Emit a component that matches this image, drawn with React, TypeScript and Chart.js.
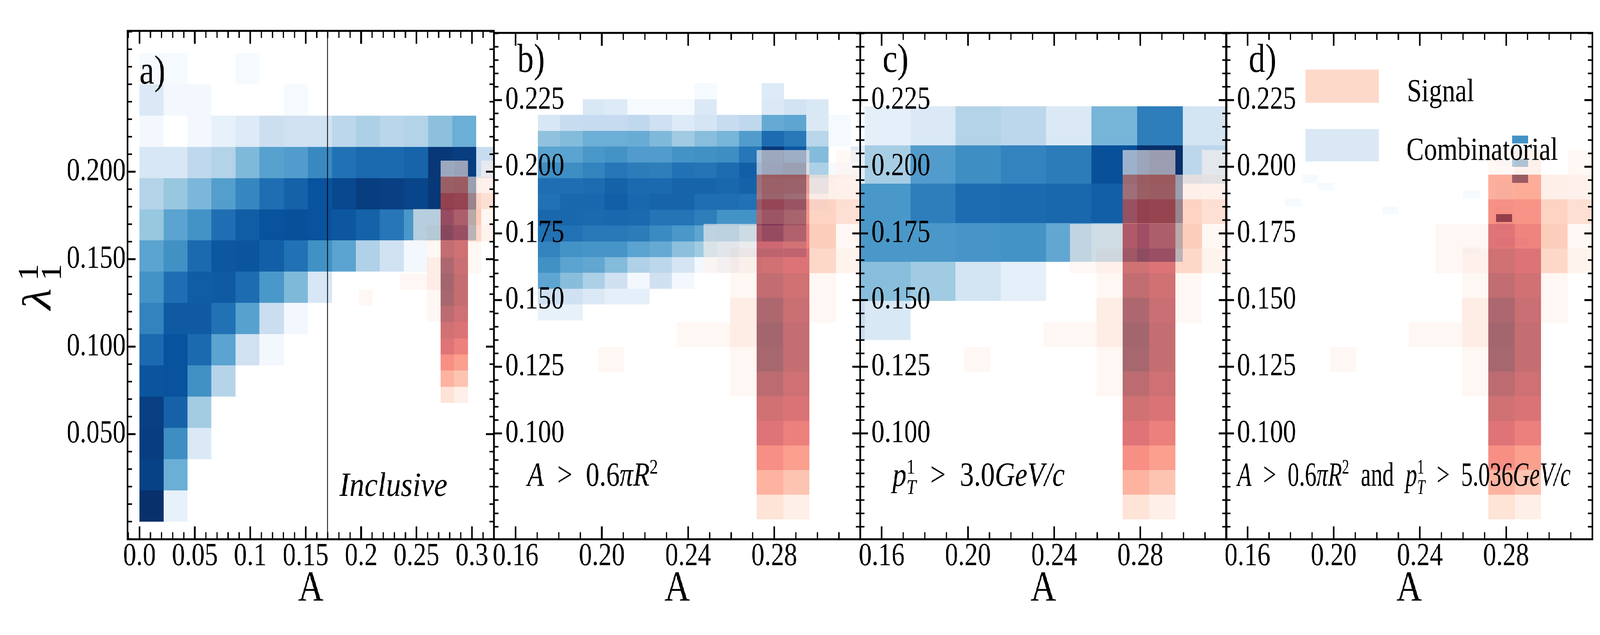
import React, { useEffect, useRef } from "react";
import { Chart, registerables } from "chart.js";

Chart.register(...registerables);

// bin edges and cell intensities (0..1 of the colormap), rows listed top row first
const signalX = [0.1982, 0.2105, 0.2227, 0.235, 0.2472, 0.2595, 0.2717, 0.284, 0.2962, 0.3085, 0.3207];
const signalY = [0.0678, 0.077, 0.0863, 0.0955, 0.1047, 0.114, 0.1232, 0.1324, 0.1417, 0.1509, 0.1601, 0.1694, 0.1786, 0.1878, 0.1971, 0.2063];
const signalRows = [
  [0, 0, 0, 0, 0, 0, 0.01, 0.08, 0, 0.01],
  [0, 0, 0, 0, 0, 0, 0.45, 0.47, 0.1, 0.08],
  [0, 0, 0, 0, 0, 0, 0.59, 0.58, 0.26, 0.2],
  [0, 0, 0, 0, 0.02, 0.02, 0.75, 0.66, 0.3, 0.02],
  [0, 0, 0, 0, 0.02, 0.08, 0.84, 0.77, 0.24, 0.06],
  [0, 0, 0, 0, 0, 0.02, 0.9, 0.84, 0.02, 0],
  [0, 0, 0, 0, 0, 0.12, 0.97, 0.87, 0.02, 0],
  [0, 0, 0, 0.02, 0.02, 0.12, 1, 0.89, 0, 0],
  [0.02, 0, 0, 0, 0, 0.02, 0.99, 0.89, 0, 0],
  [0, 0, 0, 0, 0, 0.02, 0.92, 0.85, 0, 0],
  [0, 0, 0, 0, 0, 0, 0.84, 0.78, 0, 0],
  [0, 0, 0, 0, 0, 0, 0.76, 0.68, 0, 0],
  [0, 0, 0, 0, 0, 0, 0.6, 0.53, 0, 0],
  [0, 0, 0, 0, 0, 0, 0.43, 0.34, 0, 0],
  [0, 0, 0, 0, 0, 0, 0.18, 0.1, 0, 0],
];

const inclusiveX = [0, 0.0217, 0.0434, 0.0651, 0.0868, 0.1085, 0.1302, 0.1519, 0.1736, 0.1953, 0.217, 0.2387, 0.2604, 0.2821, 0.3038, 0.3255];
const inclusiveY = [0, 0.0179, 0.0357, 0.0536, 0.0714, 0.0893, 0.1071, 0.125, 0.1428, 0.1607, 0.1785, 0.1964, 0.2142, 0.2321, 0.25, 0.2678];
const inclusiveRows = [
  [0.01, 0.01, 0, 0, 0.01, 0, 0, 0, 0, 0, 0, 0, 0, 0, 0],
  [0.14, 0.02, 0.02, 0, 0, 0, 0.01, 0, 0, 0, 0, 0, 0, 0, 0],
  [0.02, 0, 0.02, 0.08, 0.13, 0.22, 0.2, 0.2, 0.28, 0.33, 0.29, 0.31, 0.42, 0.5, 0],
  [0.16, 0.16, 0.27, 0.31, 0.45, 0.56, 0.58, 0.66, 0.75, 0.78, 0.78, 0.8, 0.97, 0.95, 0.24],
  [0.31, 0.39, 0.46, 0.57, 0.67, 0.76, 0.81, 0.87, 0.91, 0.95, 0.94, 0.92, 0.97, 0.97, 0],
  [0.39, 0.55, 0.62, 0.76, 0.83, 0.87, 0.88, 0.87, 0.85, 0.81, 0.73, 0.6, 0.6, 0.55, 0],
  [0.55, 0.63, 0.78, 0.85, 0.86, 0.82, 0.75, 0.63, 0.55, 0.32, 0.2, 0.02, 0, 0, 0],
  [0.62, 0.76, 0.83, 0.84, 0.77, 0.6, 0.45, 0.16, 0, 0, 0, 0, 0, 0, 0],
  [0.68, 0.84, 0.84, 0.75, 0.56, 0.23, 0.02, 0, 0, 0, 0, 0, 0, 0, 0],
  [0.78, 0.87, 0.78, 0.55, 0.2, 0.02, 0, 0, 0, 0, 0, 0, 0, 0, 0],
  [0.86, 0.87, 0.63, 0.3, 0, 0, 0, 0, 0, 0, 0, 0, 0, 0, 0],
  [0.94, 0.81, 0.36, 0, 0, 0, 0, 0, 0, 0, 0, 0, 0, 0, 0],
  [0.95, 0.64, 0.14, 0, 0, 0, 0, 0, 0, 0, 0, 0, 0, 0, 0],
  [0.93, 0.5, 0, 0, 0, 0, 0, 0, 0, 0, 0, 0, 0, 0, 0],
  [1, 0.08, 0, 0, 0, 0, 0, 0, 0, 0, 0, 0, 0, 0, 0],
];

const areaX = [0.1703, 0.1807, 0.1911, 0.2014, 0.2118, 0.2222, 0.2326, 0.243, 0.2533, 0.2637, 0.2741, 0.2845, 0.2949, 0.3052, 0.3156, 0.326];
const areaY = [0.1424, 0.1484, 0.1543, 0.1602, 0.1661, 0.172, 0.178, 0.1839, 0.1898, 0.1957, 0.2016, 0.2076, 0.2135, 0.2194, 0.2253, 0.2313];
const areaRows = [
  [0, 0, 0, 0, 0, 0, 0, 0.01, 0, 0, 0.13, 0, 0, 0, 0],
  [0, 0, 0.15, 0.13, 0.01, 0.01, 0.01, 0.14, 0, 0, 0.14, 0.19, 0.15, 0, 0],
  [0.16, 0.24, 0.25, 0.25, 0.27, 0.21, 0.13, 0.17, 0.24, 0.27, 0.52, 0.54, 0.14, 0.01, 0],
  [0.41, 0.44, 0.5, 0.5, 0.51, 0.45, 0.37, 0.43, 0.47, 0.58, 0.77, 0.72, 0.29, 0.01, 0],
  [0.55, 0.55, 0.6, 0.62, 0.58, 0.58, 0.62, 0.63, 0.64, 0.73, 0.97, 0.85, 0.44, 0, 0.13],
  [0.64, 0.64, 0.68, 0.73, 0.71, 0.7, 0.75, 0.74, 0.77, 0.82, 1, 0.98, 0.33, 0.01, 0.01],
  [0.76, 0.76, 0.77, 0.81, 0.78, 0.78, 0.8, 0.8, 0.79, 0.81, 0.95, 0.9, 0.22, 0, 0],
  [0.75, 0.79, 0.79, 0.82, 0.79, 0.8, 0.8, 0.76, 0.76, 0.75, 0.92, 0.82, 0.02, 0, 0],
  [0.79, 0.79, 0.78, 0.79, 0.78, 0.74, 0.74, 0.7, 0.62, 0.62, 0.78, 0.66, 0, 0, 0],
  [0.75, 0.75, 0.72, 0.72, 0.71, 0.65, 0.6, 0.54, 0.56, 0.45, 0.6, 0.52, 0, 0, 0],
  [0.68, 0.62, 0.61, 0.61, 0.55, 0.52, 0.42, 0.37, 0.3, 0.2, 0.2, 0.3, 0, 0, 0],
  [0.63, 0.55, 0.53, 0.44, 0.32, 0.28, 0.17, 0.02, 0.1, 0.01, 0, 0, 0, 0, 0],
  [0.54, 0.43, 0.33, 0.2, 0.02, 0.2, 0.02, 0, 0, 0, 0, 0, 0, 0, 0],
  [0.2, 0.2, 0.14, 0.09, 0.09, 0, 0, 0, 0, 0, 0, 0, 0, 0, 0],
  [0.08, 0.08, 0, 0, 0, 0, 0, 0, 0, 0, 0, 0, 0, 0, 0],
];

const ptX = [0.1312, 0.1522, 0.1733, 0.1943, 0.2153, 0.2363, 0.2574, 0.2784, 0.2997, 0.3205];
const ptY = [0.1204, 0.135, 0.1497, 0.1643, 0.1789, 0.1936, 0.208, 0.2227];
const ptRows = [
  [0.01, 0.09, 0.14, 0.31, 0.28, 0.14, 0.47, 0.7, 0.18],
  [0.12, 0.35, 0.58, 0.64, 0.68, 0.71, 0.88, 1, 0.28],
  [0.6, 0.6, 0.7, 0.77, 0.78, 0.79, 0.82, 0.97, 0],
  [0.6, 0.6, 0.6, 0.61, 0.62, 0.53, 0.43, 0.55, 0],
  [0.43, 0.43, 0.37, 0.18, 0.09, 0, 0, 0, 0],
  [0.24, 0.15, 0, 0, 0, 0, 0, 0, 0],
  [0.01, 0, 0, 0, 0, 0, 0, 0, 0],
];

const bothX = [0.1775, 0.185, 0.1925, 0.2001, 0.2076, 0.2151, 0.2226, 0.2301, 0.2377, 0.2452, 0.2527, 0.2602, 0.2677, 0.2753, 0.2828, 0.2903];
const bothY = [0.1675, 0.1704, 0.1734, 0.1763, 0.1793, 0.1822, 0.1852, 0.1881, 0.1911, 0.194, 0.197, 0.1999, 0.2029, 0.2058, 0.2088, 0.2117];
const bothRows = [
  [0, 0, 0, 0, 0, 0, 0, 0, 0, 0, 0, 0, 0, 0, 0.62],
  [0, 0, 0, 0, 0, 0, 0, 0, 0, 0, 0, 0, 0, 0, 0.01],
  [0, 0, 0, 0, 0, 0, 0, 0, 0, 0, 0, 0, 0, 0, 0],
  [0, 0, 0, 0, 0, 0, 0, 0, 0, 0, 0, 0, 0, 0.01, 0.65],
  [0, 0, 0, 0, 0, 0, 0, 0, 0, 0, 0, 0, 0, 0, 0],
  [0, 0.01, 0, 0, 0, 0, 0, 0, 0, 0, 0, 0, 0, 0, 0.97],
  [0, 0, 0.01, 0, 0, 0, 0, 0, 0, 0, 0, 0, 0, 0.01, 0],
  [0, 0, 0, 0, 0, 0, 0, 0, 0, 0, 0, 0.01, 0, 0.01, 0],
  [0.01, 0, 0, 0, 0, 0, 0, 0, 0, 0, 0, 0, 0, 0, 0],
  [0, 0, 0, 0, 0, 0, 0.01, 0, 0, 0, 0, 0, 0, 0.01, 0],
  [0, 0, 0, 0, 0, 0, 0, 0, 0, 0, 0, 0, 0, 1, 0],
  [0, 0, 0, 0, 0, 0, 0, 0, 0, 0, 0, 0, 0, 0.01, 0],
  [0, 0, 0, 0, 0, 0, 0, 0, 0, 0, 0, 0, 0, 0, 0],
  [0, 0, 0, 0, 0, 0, 0, 0, 0, 0, 0, 0, 0, 0.01, 0.01],
  [0, 0, 0, 0, 0, 0, 0, 0, 0, 0, 0, 0.02, 0, 0, 0],
];

const inclusiveXTicks = [0, 0.05, 0.1, 0.15, 0.2, 0.25, 0.3];
const inclusiveXLabels = ["0.0", "0.05", "0.1", "0.15", "0.2", "0.25", "0.3"];
const inclusiveYTicks = [0.05, 0.1, 0.15, 0.2];
const cutXTicks = [0.16, 0.2, 0.24, 0.28];
const cutYTicks = [0.1, 0.125, 0.15, 0.175, 0.2, 0.225];

const cutLine = 0.1697;

const blues = ["#f7fbff", "#deebf7", "#c6dbef", "#9ecae1", "#6baed6", "#4292c6", "#2171b5", "#08519c", "#08306b"];
const reds = ["#fff5f0", "#fee0d2", "#fcbba1", "#fc9272", "#fb6a4a", "#ef3b2c", "#cb181d", "#a50f15", "#67000d"];

const SERIF = "Liberation Serif";
const PAGE_W = 5000;
const PAGE_H = 1625;

const hex = (s: string) => [1, 3, 5].map((i) => parseInt(s.slice(i, i + 2), 16));

const cmap = (stops: string[], t: number, alpha: number) => {
  const p = Math.min(t, 1) * (stops.length - 1);
  const i = Math.min(Math.floor(p), stops.length - 2);
  const a = hex(stops[i]);
  const b = hex(stops[i + 1]);
  const c = a.map((v, k) => Math.round(v + (b[k] - v) * (p - i)));
  return `rgba(${c[0]},${c[1]},${c[2]},${alpha})`;
};

type Run = { t?: string; it?: boolean; sup?: string; sub?: string };
type Note = { runs: Run[]; x: number; y: number; w: number; size: number };

// text with optional stacked super/subscripts, squeezed to a target width
const drawRuns = (ctx: CanvasRenderingContext2D, n: Note) => {
  const small = n.size * 0.62;
  const runWidth = (r: Run) => {
    if (r.t) {
      ctx.font = `${r.it ? "italic " : ""}${n.size}px "${SERIF}"`;
      return ctx.measureText(r.t).width;
    }
    ctx.font = `${small}px "${SERIF}"`;
    const a = ctx.measureText(r.sup || "").width;
    ctx.font = `italic ${small}px "${SERIF}"`;
    return Math.max(a, ctx.measureText(r.sub || "").width);
  };
  const total = n.runs.reduce((s, r) => s + runWidth(r), 0);
  ctx.save();
  ctx.translate(n.x, n.y);
  ctx.scale(n.w / total, 1);
  ctx.fillStyle = "#000";
  ctx.textAlign = "left";
  ctx.textBaseline = "alphabetic";
  let x = 0;
  n.runs.forEach((r) => {
    const w = runWidth(r);
    if (r.t) {
      ctx.font = `${r.it ? "italic " : ""}${n.size}px "${SERIF}"`;
      ctx.fillText(r.t, x, 0);
    } else {
      if (r.sup) {
        ctx.font = `${small}px "${SERIF}"`;
        ctx.fillText(r.sup, x, -n.size * 0.36);
      }
      if (r.sub) {
        ctx.font = `italic ${small}px "${SERIF}"`;
        ctx.fillText(r.sub, x, n.size * 0.24);
      }
    }
    x += w;
  });
  ctx.restore();
};

const frac = (step: number, min: number, max: number) => {
  const out: number[] = [];
  for (let i = Math.ceil(min / step - 1e-6); i * step <= max + 1e-9; i++) out.push(i * step);
  return out;
};

type Layer = { xs: number[]; ys: number[]; rows: number[][]; stops: string[]; alpha: number };

type Panel = {
  left: number;
  width: number;
  pad: number;
  xMin: number;
  xMax: number;
  yMin: number;
  yMax: number;
  xTicks: number[];
  xLabels: string[];
  yTicks: number[];
  yMinor: number;
  mirror: boolean;
  layer: Layer;
  tag: string;
  tagX: number;
  tagY: number;
  note: Note;
  legend?: boolean;
  yTitle?: boolean;
  line?: number;
};

const signalLayer: Layer = { xs: signalX, ys: signalY, rows: signalRows, stops: reds, alpha: 0.6 };

const mathSize = 86;
const ptRuns: Run[] = [{ t: "p", it: true }, { sup: "1", sub: "T" }];
const areaRuns: Run[] = [
  { t: "A", it: true },
  { t: "  >  0.6" },
  { t: "\u03c0R", it: true },
  { sup: "2" },
];

const cutXLabels = cutXTicks.map((v) => v.toFixed(2));

const panels: Panel[] = [
  {
    left: 0, width: 1600, pad: 399, xMin: -0.0106, xMax: 0.32, yMin: -0.0101, yMax: 0.2805,
    xTicks: inclusiveXTicks, xLabels: inclusiveXLabels, yTicks: inclusiveYTicks, yMinor: 0.01, mirror: false,
    layer: { xs: inclusiveX, ys: inclusiveY, rows: inclusiveRows, stops: blues, alpha: 1 },
    tag: "a)", tagX: 436, tagY: 214,
    note: { runs: [{ t: "Inclusive", it: true }], x: 1061, y: 1269, w: 337, size: mathSize },
    yTitle: true, line: cutLine,
  },
  {
    left: 1460, width: 1300, pad: 84, xMin: 0.15, xMax: 0.32, yMin: 0.0603, yMax: 0.2502,
    xTicks: cutXTicks, xLabels: cutXLabels, yTicks: cutYTicks, yMinor: 0.005, mirror: true,
    layer: { xs: areaX, ys: areaY, rows: areaRows, stops: blues, alpha: 1 },
    tag: "b)", tagX: 1616, tagY: 184,
    note: { runs: areaRuns, x: 1648, y: 1243, w: 408, size: mathSize },
  },
  {
    left: 2604, width: 1300, pad: 84, xMin: 0.15, xMax: 0.32, yMin: 0.0603, yMax: 0.2502,
    xTicks: cutXTicks, xLabels: cutXLabels, yTicks: cutYTicks, yMinor: 0.005, mirror: true,
    layer: { xs: ptX, ys: ptY, rows: ptRows, stops: blues, alpha: 1 },
    tag: "c)", tagX: 2758, tagY: 184,
    note: { runs: [...ptRuns, { t: "  >  3.0" }, { t: "GeV/c", it: true }], x: 2789, y: 1243, w: 538, size: mathSize },
  },
  {
    left: 3747, width: 1253, pad: 84, xMin: 0.15, xMax: 0.32, yMin: 0.0603, yMax: 0.2502,
    xTicks: cutXTicks, xLabels: cutXLabels, yTicks: cutYTicks, yMinor: 0.005, mirror: true,
    layer: { xs: bothX, ys: bothY, rows: bothRows, stops: blues, alpha: 1 },
    tag: "d)", tagX: 3902, tagY: 184,
    note: {
      runs: [...areaRuns, { t: "  and  " }, ...ptRuns, { t: "  >  5.036" }, { t: "GeV/c", it: true }],
      x: 3867, y: 1243, w: 1041, size: mathSize,
    },
    legend: true,
  },
];

const drawLayer = (chart: any, layer: Layer) => {
  const { ctx, scales } = chart;
  const nRows = layer.rows.length;
  layer.rows.forEach((row, r) => {
    const yTop = Math.round(scales.y.getPixelForValue(layer.ys[nRows - r]));
    const yBot = Math.round(scales.y.getPixelForValue(layer.ys[nRows - r - 1]));
    row.forEach((v, c) => {
      if (!v) return;
      const x0 = Math.round(scales.x.getPixelForValue(layer.xs[c]));
      const x1 = Math.round(scales.x.getPixelForValue(layer.xs[c + 1]));
      ctx.fillStyle = cmap(layer.stops, v, layer.alpha);
      ctx.fillRect(x0, yTop, x1 - x0, yBot - yTop);
    });
  });
};

const makePlugin = (p: Panel) => ({
  id: "histPanel",
  beforeDatasetsDraw(chart: any) {
    const { ctx, chartArea: a } = chart;
    ctx.save();
    ctx.beginPath();
    ctx.rect(a.left, a.top, a.right - a.left, a.bottom - a.top);
    ctx.clip();
    drawLayer(chart, p.layer);
    drawLayer(chart, signalLayer);
    ctx.restore();
  },
  afterDraw(chart: any) {
    const { ctx, chartArea: a, scales } = chart;
    ctx.save();
    ctx.strokeStyle = "#000";
    const seg = (x0: number, y0: number, x1: number, y1: number, w: number) => {
      ctx.lineWidth = w;
      ctx.beginPath();
      ctx.moveTo(x0, y0);
      ctx.lineTo(x1, y1);
      ctx.stroke();
    };
    // inward ticks on all four sides
    frac(0.01, p.xMin, p.xMax).forEach((v) => {
      const x = scales.x.getPixelForValue(v);
      const major = p.xTicks.some((m) => Math.abs(m - v) < 1e-6);
      const len = major ? 33 : 18;
      seg(x, a.bottom, x, a.bottom - len, major ? 5 : 4);
      seg(x, a.top, x, a.top + len, major ? 5 : 4);
    });
    frac(p.yMinor, p.yMin, p.yMax).forEach((v) => {
      const y = scales.y.getPixelForValue(v);
      const major = p.yTicks.some((m) => Math.abs(m - v) < 1e-6);
      const len = major ? 25 : 14;
      seg(a.left, y, a.left + len, y, major ? 5 : 4);
      seg(a.right, y, a.right - len, y, major ? 5 : 4);
    });
    ctx.lineWidth = 5;
    ctx.strokeRect(a.left, a.top, a.right - a.left, a.bottom - a.top);

    ctx.translate(-p.left, 0);
    ctx.fillStyle = "#000";
    ctx.textAlign = "left";
    ctx.textBaseline = "alphabetic";
    ctx.font = `104px "${SERIF}"`;
    ctx.fillText(p.tag, p.tagX, p.tagY);

    if (p.legend) {
      ctx.fillStyle = "#fdd9ca";
      ctx.fillRect(4080, 178, 229, 85);
      ctx.fillStyle = "#dae8f5";
      ctx.fillRect(4080, 330, 229, 83);
      ctx.fillStyle = "#000";
      ctx.font = `82px "${SERIF}"`;
      ctx.fillText("Signal", 4397, 259);
      ctx.fillText("Combinatorial", 4395, 409);
    }
    drawRuns(ctx, p.note);
    if (p.yTitle) {
      ctx.save();
      ctx.translate(158, 793);
      ctx.rotate(-Math.PI / 2);
      ctx.font = `italic 128px "${SERIF}"`;
      ctx.fillText("\u03bb", 0, 0);
      ctx.font = `88px "${SERIF}"`;
      ctx.fillText("1", 74, -41);
      ctx.fillText("1", 74, 31);
      ctx.restore();
    }
    ctx.restore();
  },
});

const PanelChart = ({ p }: { p: Panel }) => {
  const canvasRef = useRef<HTMLCanvasElement | null>(null);

  useEffect(() => {
    const ctx = canvasRef.current?.getContext("2d") as CanvasRenderingContext2D;
    const chart = new Chart(ctx, {
      type: "scatter",
      data: {
        datasets: p.line
          ? [
              {
                data: [
                  { x: p.line, y: p.yMin },
                  { x: p.line, y: p.yMax },
                ],
                showLine: true,
                pointRadius: 0,
                borderColor: "#000",
                borderWidth: 2,
              },
            ]
          : [],
      },
      options: {
        animation: false,
        responsive: false,
        devicePixelRatio: 1,
        layout: { padding: { top: 79, right: p.width - p.pad - 1145, left: 0, bottom: 0 } },
        plugins: { legend: { display: false }, tooltip: { enabled: false } },
        scales: {
          x: {
            type: "linear",
            min: p.xMin,
            max: p.xMax,
            grid: { display: false },
            border: { display: false },
            afterBuildTicks: (s: any) => {
              s.ticks = p.xTicks.map((value) => ({ value }));
            },
            afterFit: (s: any) => {
              s.height = 245;
            },
            ticks: {
              autoSkip: false,
              maxRotation: 0,
              padding: -13,
              color: "#000",
              font: { family: SERIF, size: 82 },
              callback: (v: any) => p.xLabels[p.xTicks.findIndex((m) => Math.abs(m - v) < 1e-6)],
            },
            title: {
              display: true,
              text: "A",
              color: "#000",
              font: { family: SERIF, size: 110 },
              padding: { top: 0, bottom: 51 },
            },
          },
          y: {
            type: "linear",
            min: p.yMin,
            max: p.yMax,
            grid: { display: false, drawTicks: false },
            border: { display: false },
            afterBuildTicks: (s: any) => {
              s.ticks = p.yTicks.map((value) => ({ value }));
            },
            afterFit: (s: any) => {
              s.width = p.pad;
            },
            ticks: {
              z: 1,
              mirror: p.mirror,
              padding: p.mirror ? 35 : 6,
              autoSkip: false,
              color: "#000",
              font: { family: SERIF, size: 82 },
              callback: (v: any) => Number(v).toFixed(3),
            },
          },
        },
      },
      plugins: [makePlugin(p)],
    } as any);

    return () => {
      chart.destroy();
    };
  }, [p]);

  return (
    <canvas
      ref={canvasRef}
      width={p.width}
      height={PAGE_H}
      style={{ position: "absolute", left: p.left, top: 0, width: p.width, height: PAGE_H }}
    />
  );
};

const App = () => {
  // the window can be narrower than the figure: squeeze sideways so all four panels stay on the page
  const fit = Math.min(1, window.innerWidth / PAGE_W);
  return (
    <div style={{ position: "fixed", left: 0, top: 0, width: window.innerWidth, height: PAGE_H, overflow: "hidden", background: "#fff" }}>
      <div style={{ position: "absolute", left: 0, top: 0, width: PAGE_W, height: PAGE_H, transform: `scaleX(${fit})`, transformOrigin: "left top" }}>
        {panels.map((p) => (
          <PanelChart key={p.tag} p={p} />
        ))}
      </div>
    </div>
  );
};

export default App;
